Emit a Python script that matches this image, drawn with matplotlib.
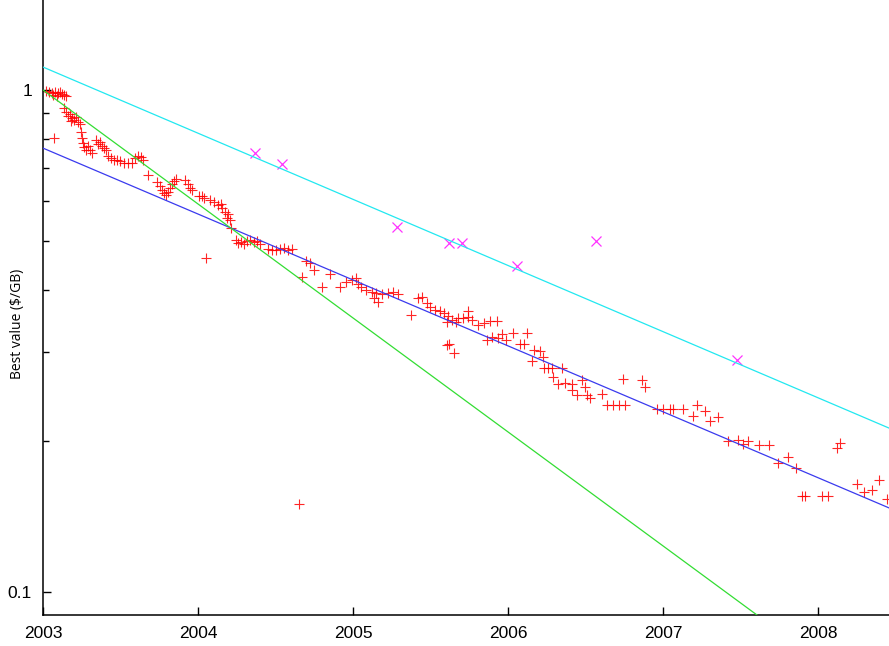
import numpy as np
import matplotlib
matplotlib.use("Agg")
import matplotlib.pyplot as plt
from matplotlib.ticker import FixedLocator, FixedFormatter, NullFormatter

# Best-value drives: decimal year, $/GB
best_year = [
    2003.019, 2003.039, 2003.058, 2003.077, 2003.097, 2003.110, 2003.123, 2003.135, 2003.148, 2003.065, 2003.090,
    2003.135, 2003.148, 2003.161, 2003.174, 2003.187, 2003.200, 2003.213, 2003.226, 2003.239, 2003.181,
    2003.071,
    2003.245, 2003.252, 2003.258, 2003.265, 2003.277, 2003.290, 2003.303, 2003.316,
    2003.342, 2003.355, 2003.368, 2003.381, 2003.394, 2003.406,
    2003.419, 2003.439, 2003.458, 2003.477, 2003.497, 2003.523, 2003.548, 2003.574, 2003.594, 2003.613, 2003.632, 2003.645,
    2003.677,
    2003.735, 2003.755, 2003.768, 2003.781, 2003.794, 2003.806, 2003.819, 2003.832, 2003.845, 2003.858,
    2003.916, 2003.935, 2003.948, 2003.961, 2004.006,
    2004.026, 2004.039, 2004.077, 2004.103, 2004.129, 2004.148, 2004.155, 2004.174, 2004.194, 2004.187,
    2004.206, 2004.213, 2004.245, 2004.258, 2004.277, 2004.297, 2004.316, 2004.335, 2004.361, 2004.381, 2004.400,
    2004.452, 2004.477, 2004.503, 2004.529, 2004.555, 2004.581, 2004.606,
    2004.052, 2004.697, 2004.723, 2004.748, 2004.671, 2004.800, 2004.852, 2004.916, 2004.955, 2004.994, 2005.019, 2005.032,
    2004.652,
    2005.052, 2005.084, 2005.123, 2005.148, 2005.135, 2005.161, 2005.187, 2005.226, 2005.258, 2005.290,
    2005.374, 2005.419, 2005.445, 2005.477, 2005.497, 2005.529, 2005.561, 2005.587, 2005.613,
    2005.606, 2005.639, 2005.665, 2005.677, 2005.710, 2005.742, 2005.768, 2005.742,
    2005.806, 2005.845, 2005.884, 2005.929, 2005.865, 2005.897, 2005.935,
    2005.606, 2005.619, 2005.652,
    2005.961, 2005.987, 2006.032, 2006.123, 2006.077, 2006.103, 2006.168, 2006.206, 2006.155, 2006.226,
    2006.232, 2006.258, 2006.284, 2006.348, 2006.290, 2006.323, 2006.368, 2006.413, 2006.477, 2006.413,
    2006.445, 2006.497, 2006.510, 2006.529, 2006.606, 2006.639, 2006.677, 2006.716, 2006.755, 2006.742,
    2006.865, 2006.884, 2006.961, 2007.000, 2007.045, 2007.065, 2007.129, 2007.219, 2007.194,
    2007.271, 2007.303, 2007.355, 2007.419, 2007.484, 2007.516, 2007.548, 2007.619, 2007.684,
    2007.742, 2007.806, 2007.858, 2008.123, 2008.142, 2007.897, 2007.916, 2008.026, 2008.065,
    2008.252, 2008.297, 2008.348, 2008.394, 2008.445,
]
best_value = [
    0.995, 0.991, 0.986, 0.991, 0.986, 0.991, 0.982, 0.977, 0.973, 0.977, 0.973,
    0.921, 0.904, 0.888, 0.896, 0.879, 0.871, 0.884, 0.863, 0.856, 0.867,
    0.802,
    0.825, 0.802, 0.784, 0.770, 0.759, 0.773, 0.759, 0.749,
    0.795, 0.780, 0.788, 0.773, 0.766, 0.759,
    0.739, 0.732, 0.726, 0.726, 0.722, 0.716, 0.716, 0.716, 0.732, 0.739, 0.736, 0.726,
    0.677,
    0.656, 0.644, 0.632, 0.624, 0.618, 0.627, 0.638, 0.650, 0.659, 0.665,
    0.662, 0.650, 0.638, 0.632, 0.615,
    0.615, 0.609, 0.604, 0.598, 0.590, 0.593, 0.582, 0.571, 0.566, 0.556,
    0.551, 0.531, 0.503, 0.496, 0.498, 0.494, 0.501, 0.503, 0.498, 0.501, 0.494,
    0.482, 0.480, 0.480, 0.482, 0.485, 0.480, 0.482,
    0.463, 0.457, 0.452, 0.438, 0.424, 0.405, 0.430, 0.405, 0.414, 0.418, 0.422, 0.411,
    0.150,
    0.405, 0.400, 0.396, 0.394, 0.385, 0.378, 0.393, 0.394, 0.396, 0.393,
    0.356, 0.385, 0.387, 0.376, 0.369, 0.365, 0.363, 0.360, 0.354,
    0.345, 0.348, 0.345, 0.351, 0.351, 0.353, 0.348, 0.363,
    0.340, 0.343, 0.346, 0.346, 0.318, 0.322, 0.320,
    0.310, 0.312, 0.299,
    0.327, 0.318, 0.328, 0.328, 0.312, 0.312, 0.303, 0.302, 0.288, 0.294,
    0.280, 0.280, 0.280, 0.280, 0.268, 0.260, 0.261, 0.260, 0.264, 0.253,
    0.247, 0.256, 0.247, 0.243, 0.248, 0.236, 0.236, 0.236, 0.236, 0.266,
    0.264, 0.256, 0.232, 0.231, 0.232, 0.232, 0.232, 0.236, 0.224,
    0.229, 0.219, 0.223, 0.200, 0.201, 0.197, 0.200, 0.196, 0.196,
    0.181, 0.186, 0.177, 0.194, 0.198, 0.155, 0.155, 0.155, 0.155,
    0.164, 0.158, 0.160, 0.167, 0.153,
]

# Other points (x markers)
other_year = [2004.368, 2004.542, 2005.284, 2005.619, 2005.703, 2006.058, 2006.568, 2007.477]
other_value = [0.749, 0.712, 0.533, 0.496, 0.496, 0.446, 0.500, 0.290]

# Exponential fits, as end values at start and end year
fit_years = [2003.0, 2008.46]
fit_upper = [1.111, 0.212]
fit_lower = [0.766, 0.147]
fit_early = [1.0, 0.0576]

W, H = 889, 646
fig = plt.figure(figsize=(W / 100, H / 100), dpi=100)
ax = fig.add_axes([43 / W, 31 / H, 1 - 43 / W, 615 / H])

ax.plot(best_year, best_value, linestyle="none", marker="+", color="#ff0000",
        markersize=7.5, markeredgewidth=0.8, alpha=0.85, zorder=2)
ax.plot(other_year, other_value, linestyle="none", marker="x", color="#ff33ff",
        markersize=6.5, markeredgewidth=0.9, zorder=3)

ax.plot(fit_years, fit_upper, color="#22e8f0", linewidth=0.9, zorder=4)
ax.plot(fit_years, fit_lower, color="#3a3aee", linewidth=0.9, zorder=4)
ax.plot(fit_years, fit_early, color="#33dd33", linewidth=0.9, zorder=4)

ax.set_yscale("log")
ax.set_xlim(2003, 2008.458)
ax.set_ylim(0.09, 1.511)

ax.xaxis.set_major_locator(FixedLocator([2003, 2004, 2005, 2006, 2007, 2008]))
ax.xaxis.set_major_formatter(FixedFormatter(["2003", "2004", "2005", "2006", "2007", "2008"]))
ax.xaxis.set_minor_locator(FixedLocator([]))
ax.yaxis.set_major_locator(FixedLocator([0.1, 1]))
ax.yaxis.set_major_formatter(FixedFormatter(["0.1", "1"]))
ax.yaxis.set_minor_locator(FixedLocator([0.2, 0.3, 0.4, 0.5, 0.6, 0.7, 0.8, 0.9]))
ax.yaxis.set_minor_formatter(NullFormatter())

ax.tick_params(which="major", direction="in", length=6, width=1.0,
               labelsize=12.5, pad=8)
ax.tick_params(which="minor", direction="in", length=4, width=1.0)
for lab in ax.get_xticklabels() + ax.get_yticklabels():
    lab.set_family("Liberation Sans")

for side in ["top", "right"]:
    ax.spines[side].set_visible(False)
for side in ["left", "bottom"]:
    ax.spines[side].set_linewidth(1.1)

fig.text(18 / W, 1 - 324 / H, "Best value ($/GB)", rotation=90, ha="center",
         va="center", fontsize=10, family="Open Sans")

fig.savefig("out.png", dpi=100)
